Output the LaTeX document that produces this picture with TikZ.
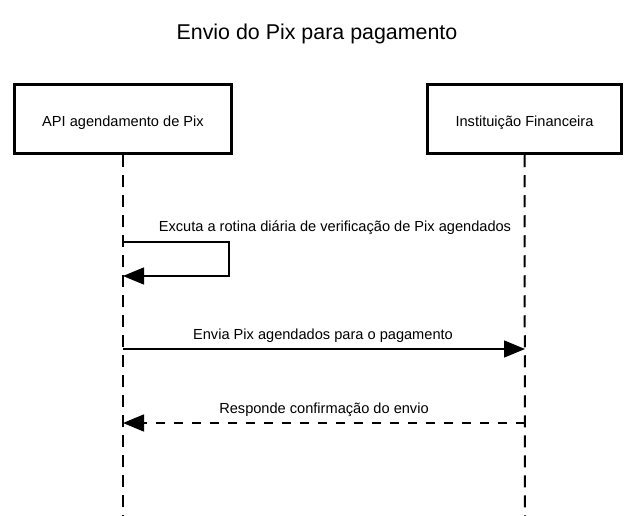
\documentclass[tikz,border=0pt]{standalone}
\usepackage{fontspec}
\setmainfont{Liberation Sans}
\usetikzlibrary{arrows.meta}
\usetikzlibrary{positioning}
\usetikzlibrary{calc}
\tikzset{
	x=1pt, y=-1pt,
	every node/.append style={align=center, font=\fontsize{14.6}{17}\selectfont},
	actor/.style={draw,
		    line width=3.5pt,
		    minimum height=69pt,
		    text height=18.5pt,
		    text depth=3pt},
	lifeline/.style={line width=2pt, dash pattern=on 12pt off 8pt},
	msg/.style={line width=1.5pt, -{Triangle[length=21pt,width=17pt]}},
	reply/.style={msg, dash pattern=on 9pt off 9pt},
	lbl/.style={inner sep=0pt}
}
\begin{document}
\begin{tikzpicture}
	\useasboundingbox (0,0) rectangle (635,516);

	\node [font=\fontsize{21.4}{25}\selectfont] (title) at (317,34) {Envio do Pix para pagamento};

	\node [actor, minimum width=217pt] (api) at (123,119) {API agendamento de Pix};
	\node [actor, minimum width=194pt] (bank) at (524.5,119) {Instituição Financeira};

	\coordinate (apiend) at (123,516);
	\coordinate (bankend) at (525,516);
	\draw [lifeline] (api.south) -- (apiend);
	\draw [lifeline] (bank.south) -- (bankend);

	% rotina diaria
	\coordinate (a1) at (123,242);
	\coordinate (a2) at (123,276);
	\draw [msg] (a1) -- (229,242) -- (229,276) -- (a2);
	\node [lbl] (l1) at (335,228) {Excuta a rotina diária de verificação de Pix agendados};

	% envio
	\coordinate (a3) at (123,349);
	\coordinate (b3) at (525,349);
	\draw [msg] (a3) -- (b3);
	\node [lbl] (l2) at (323,336) {Envia Pix agendados para o pagamento};

	% resposta
	\coordinate (b4) at (525,423);
	\coordinate (a4) at (123,423);
	\draw [reply] (b4) -- (a4);
	\node [lbl] (l3) at (324,410) {Responde confirmação do envio};

\end{tikzpicture}
\end{document}
